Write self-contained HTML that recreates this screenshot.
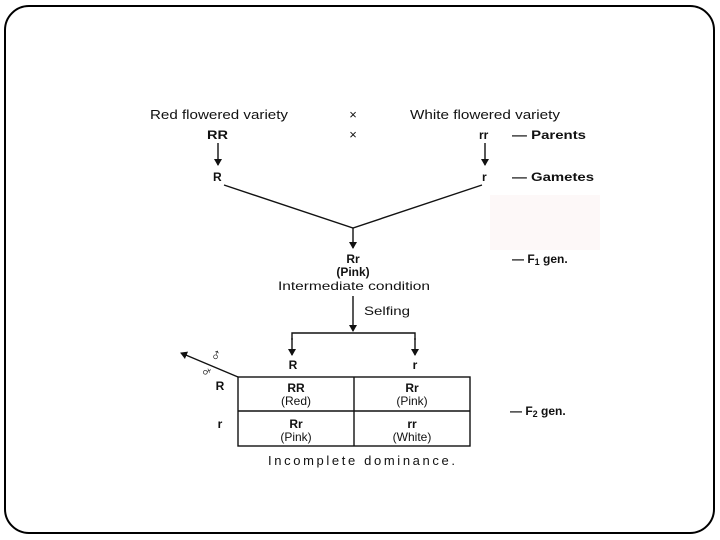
<!DOCTYPE html>
<html><head><meta charset="utf-8"><style>
html,body{margin:0;padding:0;background:#fff;}
svg{display:block;}
text{font-family:"Liberation Sans",Arial,sans-serif;fill:#111;}
.b{font-weight:bold;}
</style></head><body>
<svg width="720" height="540" viewBox="0 0 720 540" xmlns="http://www.w3.org/2000/svg">
<defs><marker id="a" markerWidth="8" markerHeight="8" refX="6" refY="4" orient="auto" markerUnits="userSpaceOnUse"><path d="M0,0 L7,4 L0,8 Z" fill="#111"/></marker></defs>
<rect x="5" y="6" width="709" height="527" rx="24" ry="24" fill="none" stroke="#000" stroke-width="2"/>
<rect x="490" y="195" width="110" height="55" fill="#fdf8f8"/>
<g font-size="13">
<text x="150" y="119" textLength="138" lengthAdjust="spacingAndGlyphs">Red flowered variety</text>
<text x="353" y="119" text-anchor="middle">×</text>
<text x="410" y="119" textLength="150" lengthAdjust="spacingAndGlyphs">White flowered variety</text>
<text x="207" y="139" class="b" font-size="12" textLength="21" lengthAdjust="spacingAndGlyphs">RR</text>
<text x="353" y="139" text-anchor="middle">×</text>
<text x="479" y="139" class="b" font-size="12">rr</text>
<text x="512" y="139" class="b" font-size="12" textLength="74" lengthAdjust="spacingAndGlyphs">— Parents</text>
<text x="213" y="181" class="b" font-size="12">R</text>
<text x="482" y="181" class="b" font-size="12">r</text>
<text x="512" y="181" class="b" font-size="12" textLength="82" lengthAdjust="spacingAndGlyphs">— Gametes</text>
<text x="353" y="263" class="b" font-size="12" text-anchor="middle">Rr</text>
<text x="353" y="276" class="b" font-size="12" text-anchor="middle">(Pink)</text>
<text x="278" y="290" font-size="12" textLength="152" lengthAdjust="spacingAndGlyphs">Intermediate condition</text>
<text x="512" y="263" class="b" font-size="12">— F<tspan font-size="9" dy="2">1</tspan><tspan dy="-2"> gen.</tspan></text>
<text x="364" y="315" font-size="12" textLength="46" lengthAdjust="spacingAndGlyphs">Selfing</text>
<text x="293" y="369" class="b" font-size="12" text-anchor="middle">R</text>
<text x="415" y="369" class="b" font-size="12" text-anchor="middle">r</text>
<text x="220" y="390" class="b" font-size="12" text-anchor="middle">R</text>
<text x="220" y="428" class="b" font-size="12" text-anchor="middle">r</text>
<text x="296" y="392" class="b" font-size="12" text-anchor="middle">RR</text>
<text x="296" y="405" font-size="12" text-anchor="middle">(Red)</text>
<text x="412" y="392" class="b" font-size="12" text-anchor="middle">Rr</text>
<text x="412" y="405" font-size="12" text-anchor="middle">(Pink)</text>
<text x="296" y="428" class="b" font-size="12" text-anchor="middle">Rr</text>
<text x="296" y="441" font-size="12" text-anchor="middle">(Pink)</text>
<text x="412" y="428" class="b" font-size="12" text-anchor="middle">rr</text>
<text x="412" y="441" font-size="12" text-anchor="middle">(White)</text>
<text x="510" y="415" class="b" font-size="12">— F<tspan font-size="9" dy="2">2</tspan><tspan dy="-2"> gen.</tspan></text>
<text x="268" y="465" font-size="13" textLength="187" lengthAdjust="spacing">Incomplete dominance.</text>
<text x="216" y="360" font-size="16" font-weight="bold" text-anchor="middle" transform="rotate(-25 216 355)" font-family="DejaVu Sans">♂</text>
<text x="206" y="378" font-size="16" font-weight="bold" text-anchor="middle" transform="rotate(-115 206 372)" font-family="DejaVu Sans">♀</text>
</g>
<g stroke="#111" stroke-width="1.4" fill="none">
<line x1="218" y1="143" x2="218" y2="165" marker-end="url(#a)"/>
<line x1="485" y1="143" x2="485" y2="165" marker-end="url(#a)"/>
<polyline points="224,185 353,228 482,185"/>
<line x1="353" y1="228" x2="353" y2="248" marker-end="url(#a)"/>
<line x1="353" y1="296" x2="353" y2="331" marker-end="url(#a)"/>
<polyline points="292,340 292,333 415,333 415,340"/>
<line x1="292" y1="338" x2="292" y2="355" marker-end="url(#a)"/>
<line x1="415" y1="338" x2="415" y2="355" marker-end="url(#a)"/>
<line x1="238" y1="377" x2="181" y2="353" marker-end="url(#a)"/>
<rect x="238" y="377" width="232" height="69"/>
<line x1="238" y1="411" x2="470" y2="411"/>
<line x1="354" y1="377" x2="354" y2="446"/>
</g>
</svg>
</body></html>
